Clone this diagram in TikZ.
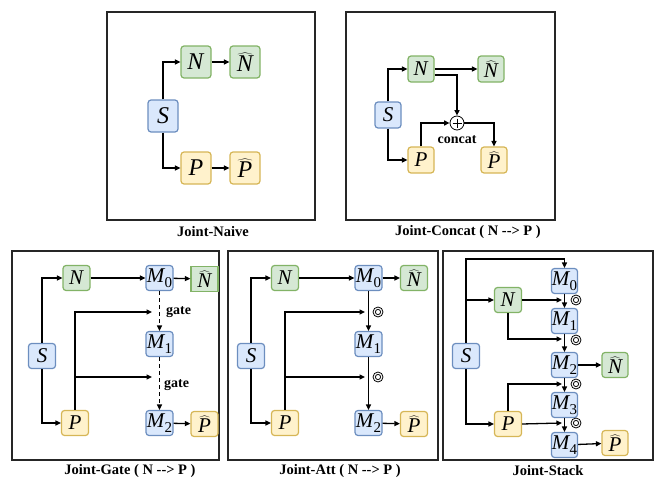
\documentclass[tikz,border=0pt]{standalone}
\usepackage{fontspec}
\setmainfont{Liberation Serif}
\usetikzlibrary{arrows.meta,calc}
\definecolor{gfill}{HTML}{D5E8D4}\definecolor{gline}{HTML}{82B366}
\definecolor{bfill}{HTML}{DAE8FC}\definecolor{bline}{HTML}{6C8EBF}
\definecolor{yfill}{HTML}{FFF2CC}\definecolor{yline}{HTML}{D6B656}
\newcommand{\vv}[1]{\textit{#1}}
\newcommand{\hv}[1]{$\widehat{\hbox{\itshape #1}}$}
\newcommand{\mv}[1]{\textit{M}\kern-0.5pt\raisebox{-0.22em}{\fontsize{15}{15}\selectfont #1}}
\tikzset{
 box/.style={draw, rounded corners=3pt, inner sep=0pt, line width=1.2pt,
   minimum width=27pt, minimum height=25pt, font=\fontsize{21}{21}\selectfont},
 gbox/.style={box, fill=gfill, draw=gline},
 bbox/.style={box, fill=bfill, draw=bline},
 ybox/.style={box, fill=yfill, draw=yline},
 bigbox/.style={minimum width=30pt, minimum height=32pt, font=\fontsize{24}{24}\selectfont},
 medbox/.style={minimum width=26pt, minimum height=26pt},
 mbox/.style={minimum width=26pt, minimum height=25pt},
 arr/.style={line width=1.3pt, -{Triangle[length=5.5pt,width=5pt]}},
 dsh/.style={dash pattern=on 4pt off 3pt},
 panel/.style={draw=black!85, line width=1.2pt},
 captxt/.style={font=\fontsize{14.5}{14.5}\selectfont\bfseries, inner sep=0pt},
 lbl/.style={font=\fontsize{14}{14}\selectfont\bfseries, inner sep=0pt},
 plus/.style={circle, draw, line width=0.8pt, minimum size=14pt, inner sep=0pt,
   path picture={\draw[line width=0.8pt]
     ([yshift=-2.5pt]path picture bounding box.north) -- ([yshift=2.5pt]path picture bounding box.south)
     ([xshift=2.5pt]path picture bounding box.west) -- ([xshift=-2.5pt]path picture bounding box.east);}},
 attn/.style={circle, draw, line width=0.8pt, minimum size=10pt, inner sep=0pt,
   path picture={\draw[line width=0.8pt] (path picture bounding box.center) circle[radius=2.6pt];}},
}
\begin{document}
\begin{tikzpicture}[x=1pt,y=-1pt]
\useasboundingbox (0,0) rectangle (657,479);

% ---------- Joint-Naive ----------
\draw[panel] (107,12) rectangle (315,220);
\node[gbox,bigbox] (aN)  at (196,62)  {\vv{N}};
\node[gbox,bigbox] (aNh) at (245,62)  {\hv{N}};
\node[bbox,bigbox] (aS)  at (163,116) {\vv{S}};
\node[ybox,bigbox] (aP)  at (196,168) {\vv{P}};
\node[ybox,bigbox] (aPh) at (245,168) {\hv{P}};
\draw[arr] (aS.north) |- (aN.west);
\draw[arr] (aS.south) |- (aP.west);
\draw[arr] (aN) -- (aNh);
\draw[arr] (aP) -- (aPh);
\node[captxt] (capA) at (213,232) {Joint-Naive};

% ---------- Joint-Concat ----------
\draw[panel] (346,12) rectangle (555,220);
\node[gbox,medbox] (bN)  at (421,69)  {\vv{N}};
\node[gbox,medbox] (bNh) at (491,69)  {\hv{N}};
\node[bbox,medbox] (bS)  at (388,115) {\vv{S}};
\node[ybox,medbox] (bP)  at (421,160) {\vv{P}};
\node[ybox,medbox] (bPh) at (494,160) {\hv{P}};
\node[plus] (bC) at (457,123) {};
\node[lbl] (bCl) at (457,140) {concat};
\draw[arr] (bS.north) |- (bN.west);
\draw[arr] (bS.south) |- (bP.west);
\draw[arr] (bN) -- (bNh);
\draw[arr] ([yshift=-6pt]bN.east) -| (bC.north);
\draw[arr] (bP.north) |- (bC.west);
\draw[arr] (bC.east) -| (bPh.north);
\node[captxt] (capB) at (468,232) {Joint-Concat ( N -{}-{}> P )};

% ---------- Joint-Gate ----------
\draw[panel] (12,251) rectangle (219,460);
\node[gbox] (cN)  at (76.5,278) {\vv{N}};
\node[bbox] (cM0) at (159.5,278) {\mv{0}};
\node[gbox,sharp corners] (cNh) at (204.5,279) {\hv{N}};
\node[bbox] (cM1) at (159.5,344) {\mv{1}};
\node[bbox] (cS)  at (42,356) {\vv{S}};
\node[ybox] (cP)  at (75,423) {\vv{P}};
\node[bbox] (cM2) at (159.5,423) {\mv{2}};
\node[ybox] (cPh) at (204.5,424) {\hv{P}};
\coordinate (cG1) at (152,312);
\coordinate (cG2) at (152,377);
\draw[arr] (cS.north) |- (cN.west);
\draw[arr] (cS.south) |- (cP.west);
\draw[arr] (cN) -- (cM0);
\draw[arr] (cM0) -- (cNh);
\draw[arr,dsh] (cM0) -- (cM1);
\draw[arr,dsh] (cM1) -- (cM2);
\draw[arr] (cP.north) |- (cG1);
\draw[arr] (cP.north |- cG2) -- (cG2);
\draw[arr] (cM2) -- (cPh);
\node[lbl,anchor=west] (cL1) at (166,312) {gate};
\node[lbl,anchor=west] (cL2) at (164,385) {gate};
\node[captxt] (capC) at (130,471) {Joint-Gate ( N -{}-{}> P )};

% ---------- Joint-Att ----------
\draw[panel] (228,251) rectangle (438,460);
\node[gbox] (dN)  at (285,278) {\vv{N}};
\node[bbox] (dM0) at (368.5,278) {\mv{0}};
\node[gbox] (dNh) at (414,278) {\hv{N}};
\node[bbox] (dM1) at (368.5,344) {\mv{1}};
\node[bbox] (dS)  at (251,356) {\vv{S}};
\node[ybox] (dP)  at (285,423) {\vv{P}};
\node[bbox] (dM2) at (368.5,423) {\mv{2}};
\node[ybox] (dPh) at (414,424) {\hv{P}};
\coordinate (dG1) at (365,312);
\coordinate (dG2) at (365,377);
\node[attn] (dA1) at (378,312) {};
\node[attn] (dA2) at (378,377) {};
\draw[arr] (dS.north) |- (dN.west);
\draw[arr] (dS.south) |- (dP.west);
\draw[arr] (dN) -- (dM0);
\draw[arr] (dM0) -- (dNh);
\draw[arr] (dM0) -- (dM1);
\draw[arr] (dM1) -- (dM2);
\draw[arr] (dP.north) |- (dG1);
\draw[arr] (dP.north |- dG2) -- (dG2);
\draw[arr] (dM2) -- (dPh);
\node[captxt] (capD) at (340,471) {Joint-Att ( N -{}-{}> P )};

% ---------- Joint-Stack ----------
\draw[panel] (443,251) rectangle (653,460);
\node[bbox,mbox] (eM0) at (564.5,281) {\mv{0}};
\node[bbox,mbox] (eM1) at (564.5,321) {\mv{1}};
\node[bbox,mbox] (eM2) at (564.5,365) {\mv{2}};
\node[bbox,mbox] (eM3) at (564.5,405) {\mv{3}};
\node[bbox,mbox] (eM4) at (564.5,445) {\mv{4}};
\node[gbox] (eN)  at (508,300) {\vv{N}};
\node[bbox] (eS)  at (466,356) {\vv{S}};
\node[ybox] (eP)  at (508,424) {\vv{P}};
\node[gbox,mbox] (eNh) at (615,365) {\hv{N}};
\node[ybox,mbox] (ePh) at (615,443) {\hv{P}};
\coordinate (eT) at (564.5,259);
\coordinate (eC1) at (562,300);
\coordinate (eC2) at (562,339);
\coordinate (eC3) at (562,384);
\coordinate (eC4) at (562,423);
\node[attn] (eA1) at (576,300) {};
\node[attn] (eA2) at (576,340) {};
\node[attn] (eA3) at (576,384) {};
\node[attn] (eA4) at (576,423) {};
\draw[arr] (eS.north) |- (eT) -- (eM0.north);
\draw[arr] (eS.north |- eN.west) -- (eN.west);
\draw[arr] (eS.south) |- (eP.west);
\draw[arr] (eN.east) -- (eC1);
\draw[arr] (eN.south) |- (eC2);
\draw[arr] (eP.north) |- (eC3);
\draw[arr] (eP.east) -- (eC4);
\draw[arr] (eM0) -- (eM1);
\draw[arr] (eM1) -- (eM2);
\draw[arr] (eM2) -- (eM3);
\draw[arr] (eM3) -- (eM4);
\draw[arr] (eM2) -- (eNh);
\draw[arr] (eM4) -- (ePh);
\node[captxt] (capE) at (548,471) {Joint-Stack};
\end{tikzpicture}
\end{document}
